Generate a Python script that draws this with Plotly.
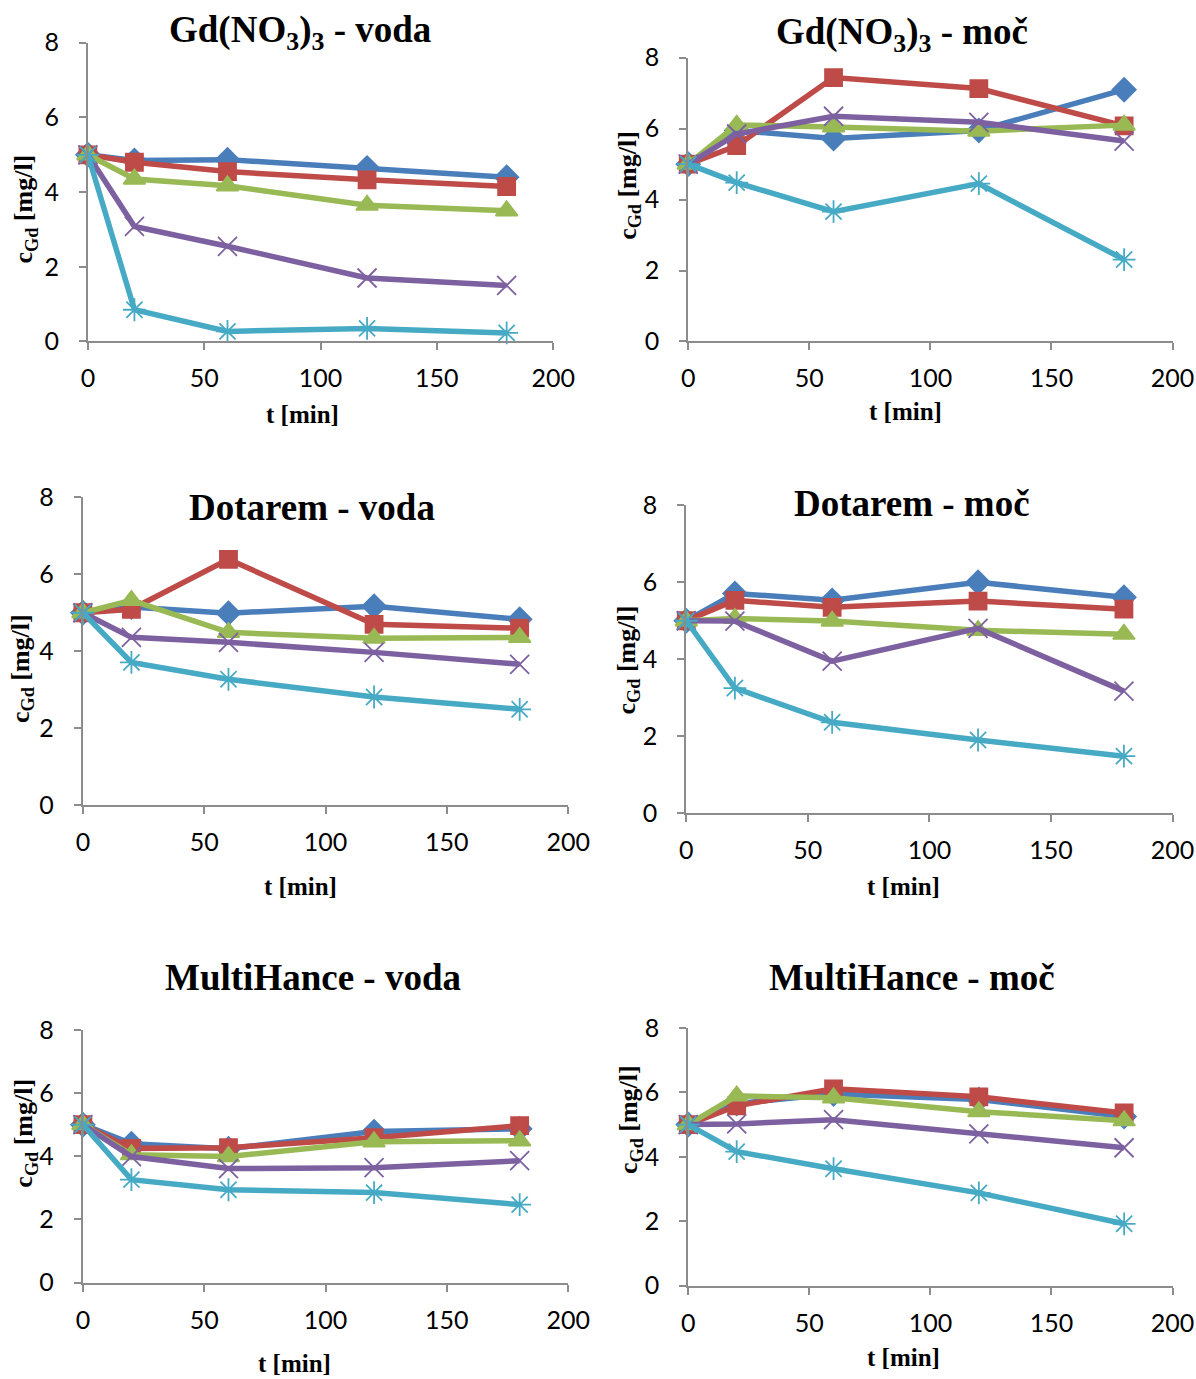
import plotly.graph_objects as go

W, H = 1196, 1379

t_min = [0, 20, 60, 120, 180]

titles = ["Gd(NO<sub>3</sub>)<sub>3</sub> - voda", "Gd(NO<sub>3</sub>)<sub>3</sub> - moč",
          "Dotarem - voda", "Dotarem - moč",
          "MultiHance - voda", "MultiHance - moč"]

x_ticks = [0, 50, 100, 150, 200]
y_ticks = [0, 2, 4, 6, 8]

# series per panel: blue, red, green, purple, cyan
p1_blue = [5, 4.85, 4.87, 4.65, 4.4]
p1_red = [5, 4.8, 4.55, 4.33, 4.15]
p1_green = [5, 4.35, 4.17, 3.65, 3.5]
p1_purple = [5, 3.08, 2.55, 1.7, 1.5]
p1_cyan = [5, 0.85, 0.27, 0.35, 0.23]

p2_blue = [5, 5.95, 5.72, 5.95, 7.1]
p2_red = [5, 5.52, 7.44, 7.13, 6.08]
p2_green = [5, 6.1, 6.05, 5.93, 6.1]
p2_purple = [5, 5.85, 6.35, 6.18, 5.65]
p2_cyan = [5, 4.48, 3.66, 4.45, 2.31]

p3_blue = [5, 5.15, 4.99, 5.17, 4.83]
p3_red = [5, 5.09, 6.39, 4.7, 4.6]
p3_green = [5, 5.32, 4.49, 4.34, 4.36]
p3_purple = [5, 4.36, 4.23, 3.97, 3.66]
p3_cyan = [5, 3.71, 3.27, 2.81, 2.49]

p4_blue = [5, 5.71, 5.53, 6.0, 5.61]
p4_red = [5, 5.53, 5.35, 5.51, 5.3]
p4_green = [5, 5.06, 4.99, 4.75, 4.65]
p4_purple = [5, 4.99, 3.95, 4.8, 3.17]
p4_cyan = [5, 3.25, 2.36, 1.9, 1.48]

p5_blue = [5, 4.4, 4.24, 4.78, 4.87]
p5_red = [5, 4.25, 4.27, 4.59, 4.97]
p5_green = [5, 4.05, 3.99, 4.46, 4.49]
p5_purple = [5, 3.99, 3.61, 3.64, 3.86]
p5_cyan = [5, 3.26, 2.94, 2.85, 2.47]

p6_blue = [5, 5.65, 5.95, 5.78, 5.25]
p6_red = [5, 5.58, 6.11, 5.86, 5.36]
p6_green = [5, 5.89, 5.83, 5.4, 5.12]
p6_purple = [5, 5.02, 5.15, 4.71, 4.28]
p6_cyan = [5, 4.16, 3.63, 2.88, 1.92]

panels = [
    [p1_blue, p1_red, p1_green, p1_purple, p1_cyan],
    [p2_blue, p2_red, p2_green, p2_purple, p2_cyan],
    [p3_blue, p3_red, p3_green, p3_purple, p3_cyan],
    [p4_blue, p4_red, p4_green, p4_purple, p4_cyan],
    [p5_blue, p5_red, p5_green, p5_purple, p5_cyan],
    [p6_blue, p6_red, p6_green, p6_purple, p6_cyan],
]

colors = ["#4A7EBB", "#BE4B48", "#98B954", "#7D60A0", "#46AAC5"]
symbols = ["diamond", "square", "triangle-up", "x-thin-open", "asterisk-open"]
msizes = [18, 17, 19, 19, 19]

# target pixel positions in the photographed image (left, right, top, bottom)
boxes = [(88, 553, 42, 341), (688, 1172, 57, 341),
         (83, 568, 497, 805), (686, 1172, 505, 813),
         (83, 568, 1030, 1283), (688, 1172, 1028, 1286)]
title_pos = [(300, 32), (902, 34), (312, 507), (912, 503), (313, 978), (912, 978)]
xt_pos = [(302, 414), (905, 411), (300, 886), (903, 886), (294, 1364), (903, 1358)]
yt_pos = [(25, 208), (628, 185), (22, 668), (628, 660), (25, 1133), (630, 1120)]


# map target image px -> figure paper fraction (compensates page photo shrink)
def px(v):
    return (((v - 4.2) / 0.986) - 3.0) / 0.989 / W


def py(v):
    return 1 - (((v - 6.3) / 0.992) - 9.0) / 0.987 / H


fig = go.Figure()
axis_col = "#8C8C8C"
tickfont = dict(family="Lato, Open Sans, sans-serif", size=25, color="#000000")

for i, (series, box) in enumerate(zip(panels, boxes)):
    n = "" if i == 0 else str(i + 1)
    l, r, tp, bt = box
    for s, c, sym, ms in zip(series, colors, symbols, msizes):
        fig.add_trace(go.Scatter(
            x=t_min, y=s, mode="lines+markers", xaxis="x" + n, yaxis="y" + n,
            line=dict(color=c, width=5.5),
            marker=dict(symbol=sym, size=ms, color=c, line=dict(color=c, width=1.8)),
            cliponaxis=False, showlegend=False))
    fig.layout["xaxis" + n] = dict(
        domain=[px(l), min(px(r), 1.0)], range=[0, 200], anchor="y" + n,
        tickvals=x_ticks, ticks="outside", ticklen=7, tickcolor=axis_col, tickwidth=2,
        showline=True, linecolor=axis_col, linewidth=2, showgrid=False, zeroline=False,
        tickfont=tickfont, ticklabelstandoff=7, fixedrange=True)
    fig.layout["yaxis" + n] = dict(
        domain=[py(bt), py(tp)], range=[0, 8], anchor="x" + n,
        tickvals=y_ticks, ticks="outside", ticklen=7, tickcolor=axis_col, tickwidth=2,
        showline=True, linecolor=axis_col, linewidth=2, showgrid=False, zeroline=False,
        tickfont=tickfont, ticklabelstandoff=15, fixedrange=True)

annotations = []
serif = "Liberation Serif, Times New Roman, serif"
for i in range(6):
    x, y = title_pos[i]
    annotations.append(dict(text="<b>" + titles[i] + "</b>", x=px(x), y=py(y),
                            xref="paper", yref="paper", showarrow=False,
                            xanchor="center", yanchor="middle",
                            font=dict(family=serif, size=37, color="#000")))
    x, y = xt_pos[i]
    annotations.append(dict(text="<b>t [min]</b>", x=px(x), y=py(y),
                            xref="paper", yref="paper", showarrow=False,
                            xanchor="center", yanchor="middle",
                            font=dict(family=serif, size=25, color="#000")))
    x, y = yt_pos[i]
    annotations.append(dict(text="<b>c<sub>Gd</sub> [mg/l]</b>", x=px(x), y=py(y),
                            xref="paper", yref="paper", showarrow=False, textangle=-90,
                            xanchor="center", yanchor="middle",
                            font=dict(family=serif, size=26, color="#000")))

fig.update_layout(width=W, height=H, margin=dict(l=0, r=0, t=0, b=0),
                  paper_bgcolor="white", plot_bgcolor="white",
                  annotations=annotations, showlegend=False)

fig.write_html("out.html", post_script="document.body.style.margin='0';")
